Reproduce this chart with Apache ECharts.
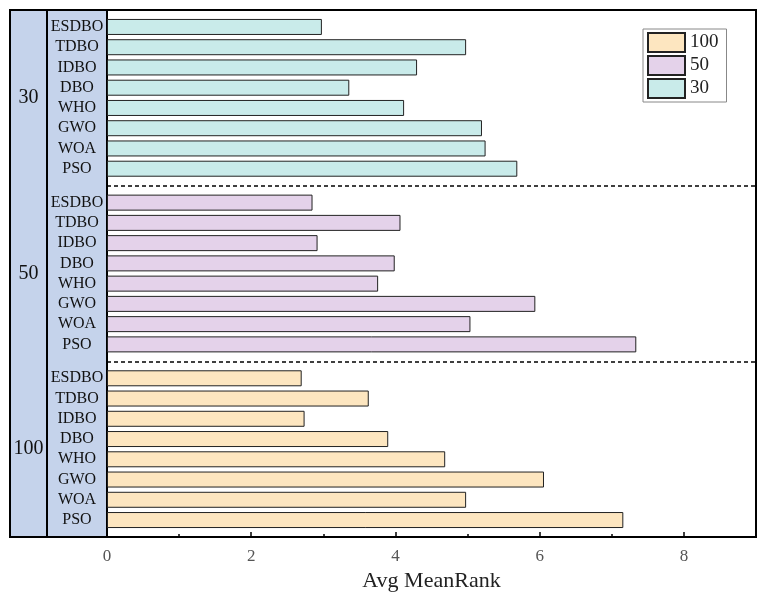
<!DOCTYPE html>
<html>
<head>
<meta charset="utf-8">
<script src="https://cdn.jsdelivr.net/npm/echarts@6/dist/echarts.min.js"></script>
<style>
html, body { margin: 0; padding: 0; background: #fff; }
#main { width: 766px; height: 598px; }
</style>
</head>
<body>
<div id="main"></div>
<script>
// algorithms, top to bottom inside each group
var algos = ['ESDBO', 'TDBO', 'IDBO', 'DBO', 'WHO', 'GWO', 'WOA', 'PSO'];
var groups = ['100', '50', '30']; // bottom to top
var rank30 = [2.98, 4.98, 4.30, 3.36, 4.12, 5.20, 5.25, 5.69];
var rank50 = [2.85, 4.07, 2.92, 3.99, 3.76, 5.94, 5.04, 7.34];
var rank100 = [2.70, 3.63, 2.74, 3.90, 4.69, 6.06, 4.98, 7.16];
var xTicks = [0, 2, 4, 6, 8];

var colors = { '30': '#c9ebea', '50': '#e4d2ea', '100': '#fde6c0' };
var font = 'Liberation Serif';

// layout
var plotL = 107, plotT = 10, plotW = 649, plotH = 527;
var panelL = 10, panelMid = 47;
var groupH = plotH / 3;
var slotH = 162;
var inset = (groupH - slotH) / 2;

var chart = echarts.init(document.getElementById('main'));

var grids = [{ left: plotL, top: plotT, width: plotW, height: plotH, show: true, borderColor: '#000', borderWidth: 2, z: 1, outerBoundsMode: 'none' }];
var xAxes = [{
    gridIndex: 0, type: 'value', min: 0, max: 9, interval: 2,
    name: 'Avg MeanRank', nameLocation: 'middle', nameGap: 32,
    nameTextStyle: { fontFamily: font, fontSize: 22, color: '#222' },
    axisLine: { show: true, lineStyle: { color: '#000', width: 2 } },
    axisTick: { show: true, inside: true, length: 5, lineStyle: { color: '#000', width: 1.5 } },
    minorTick: { show: true, splitNumber: 2, length: 3, lineStyle: { color: '#000', width: 1.5 } },
    axisLabel: { fontFamily: font, fontSize: 17, color: '#555', margin: 11,
        formatter: function (v) { return xTicks.indexOf(v) >= 0 ? String(v) : ''; } },
    splitLine: { show: false }
}];
var yAxes = [{
    gridIndex: 0, type: 'category', data: groups,
    axisLine: { show: false }, axisTick: { show: false },
    axisLabel: { interval: 0, fontFamily: font, fontSize: 20, color: '#111', align: 'center', margin: plotL - (panelL + panelMid) / 2 },
    splitLine: { show: true, interval: 0, lineStyle: { color: '#000', width: 1.5, type: [4, 3] } }
}];

var seriesDefs = [
    { name: '100', data: rank100, g: 2 },
    { name: '50', data: rank50, g: 1 },
    { name: '30', data: rank30, g: 0 }
];
var series = [];
seriesDefs.forEach(function (s, i) {
    var idx = i + 1;
    grids.push({ left: plotL, width: plotW, top: plotT + s.g * groupH + inset, height: slotH, outerBoundsMode: 'none' });
    xAxes.push({ gridIndex: idx, type: 'value', min: 0, max: 9, show: false });
    yAxes.push({
        gridIndex: idx, type: 'category', data: algos, inverse: true,
        axisLine: { show: false }, axisTick: { show: false }, splitLine: { show: false },
        axisLabel: { interval: 0, fontFamily: font, fontSize: 16, color: '#111', align: 'center', margin: plotL - (panelMid + plotL) / 2 }
    });
    series.push({
        name: s.name, type: 'bar', xAxisIndex: idx, yAxisIndex: idx,
        data: s.data, barWidth: 16,
        itemStyle: { color: colors[s.name], borderColor: '#222', borderWidth: 1 }
    });
});

var option = {
    backgroundColor: '#fff',
    animation: false,
    grid: grids,
    xAxis: xAxes,
    yAxis: yAxes,
    series: series,
    legend: {
        data: ['100', '50', '30'], orient: 'vertical',
        left: 643, top: 29,
        icon: 'rect',
        itemWidth: 37, itemHeight: 19, itemGap: 2,
        padding: [3, 8, 3, 4],
        borderColor: '#888', borderWidth: 1,
        textStyle: { fontFamily: font, fontSize: 19, color: '#222' }
    },
    graphic: [
        { type: 'rect', z: -10, shape: { x: panelL, y: plotT, width: plotL - panelL, height: plotH },
          style: { fill: '#c5d3eb', stroke: '#000', lineWidth: 2 } },
        { type: 'line', z: -9, shape: { x1: panelMid, y1: plotT, x2: panelMid, y2: plotT + plotH },
          style: { stroke: '#000', lineWidth: 2 } }
    ]
};
chart.setOption(option);
</script>
</body>
</html>
